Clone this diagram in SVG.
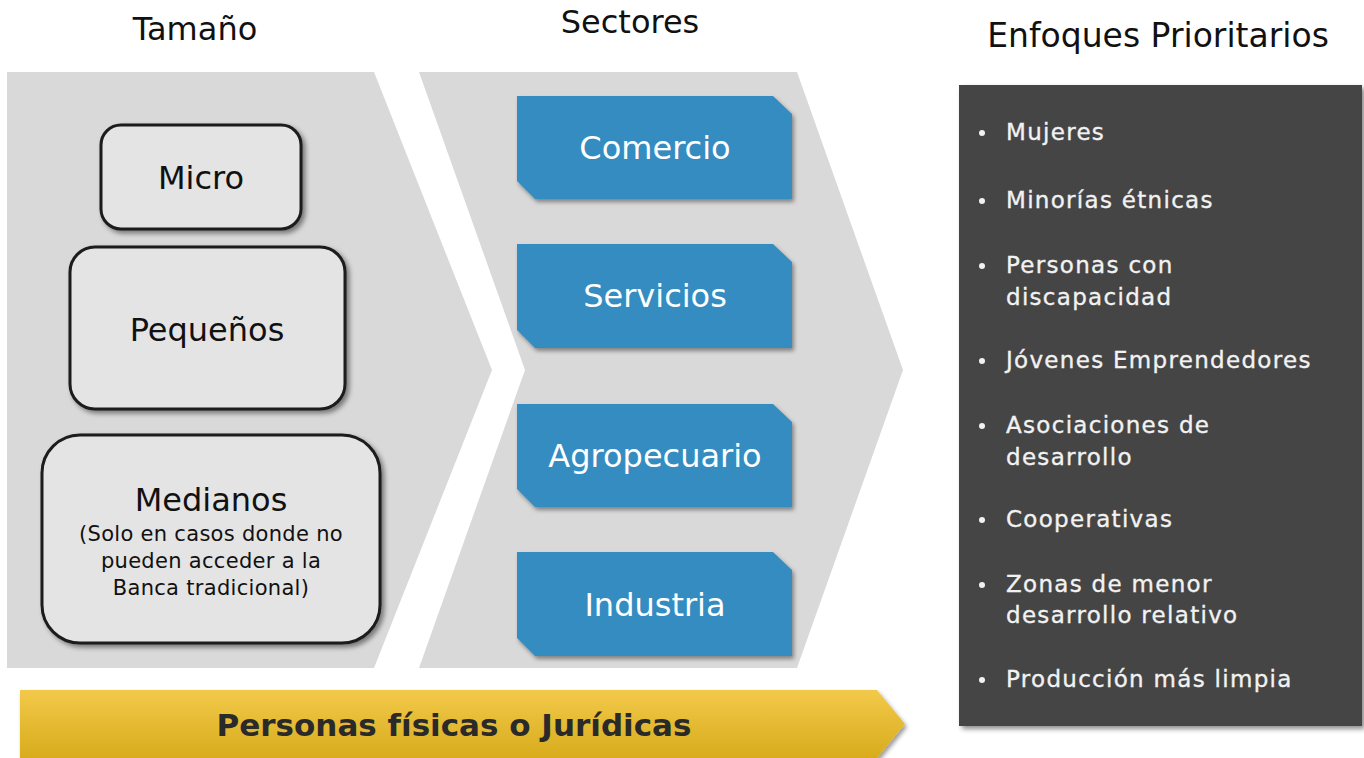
<svg xmlns="http://www.w3.org/2000/svg" width="1364" height="758" viewBox="0 0 1364 758">
<defs>
<filter id="sh" x="-10%" y="-10%" width="130%" height="130%"><feDropShadow dx="3" dy="3" stdDeviation="2.5" flood-color="#000" flood-opacity="0.45"/></filter>
<filter id="shs" x="-10%" y="-10%" width="130%" height="130%"><feDropShadow dx="2" dy="3" stdDeviation="2" flood-color="#000" flood-opacity="0.4"/></filter>
<linearGradient id="yel" x1="0" y1="0" x2="0" y2="1"><stop offset="0" stop-color="#f2c94a"/><stop offset="1" stop-color="#d8ac1c"/></linearGradient>
<style>
.title{font-family:"DejaVu Sans",Verdana,sans-serif;font-size:32px;fill:#111;text-anchor:middle}
.panel{fill:#d9d9d9}
.rbox{fill:#e4e4e4;stroke:#1c1c1c;stroke-width:3;filter:url(#sh)}
.btxt{font-family:"DejaVu Sans",Verdana,sans-serif;font-size:32px;fill:#111;text-anchor:middle}
.stxt{font-family:"DejaVu Sans",Verdana,sans-serif;font-size:21px;fill:#111;text-anchor:middle;letter-spacing:0.3px}
.blue{fill:#368cc1;filter:url(#shs)}
.wtxt{font-family:"DejaVu Sans",Verdana,sans-serif;font-size:32px;fill:#fff;text-anchor:middle}
.dark{fill:#444;filter:url(#sh)}
.li{font-family:"DejaVu Sans",Verdana,sans-serif;font-size:23px;fill:#f2f2f2;stroke:#f2f2f2;stroke-width:0.35;letter-spacing:1.3px}
.dot{fill:#f2f2f2}
.ytxt{font-family:"DejaVu Sans",Verdana,sans-serif;font-size:31px;font-weight:bold;fill:#2a2a2a;text-anchor:middle}
</style>
</defs>
<rect width="1364" height="758" fill="#fff"/>

<g id="titles">
<text class="title" x="195" y="40">Tamaño</text>
<text class="title" x="630" y="33">Sectores</text>
<text class="title" x="1158" y="47" style="font-size:33px">Enfoques Prioritarios</text>
</g>

<g id="panel-tamano">
<path class="panel" d="M7 72 L374 72 L492 370 L374 668 L7 668 Z"/>
</g>
<g id="panel-sectores">
<path class="panel" d="M419 72 L797 72 L903 370 L797 668 L419 668 L525 370 Z"/>
</g>

<g id="connectors"></g>

<g id="micro">
<rect class="rbox" x="101" y="125" width="200" height="104" rx="20"/>
<text class="btxt" x="201" y="189">Micro</text>
</g>
<g id="pequenos">
<rect class="rbox" x="70" y="247" width="275" height="162" rx="25"/>
<text class="btxt" x="207" y="341">Pequeños</text>
</g>
<g id="medianos">
<rect class="rbox" x="42" y="435" width="338" height="208" rx="38"/>
<text class="btxt" x="211" y="511">Medianos</text>
<text class="stxt" x="211" y="541">(Solo en casos donde no</text>
<text class="stxt" x="211" y="568">pueden acceder a la</text>
<text class="stxt" x="211" y="595">Banca tradicional)</text>
</g>

<g id="comercio">
<path class="blue" d="M517 96 L773 96 L792 114 L792 199 L535 199 L517 181 Z"/>
<text class="wtxt" x="655" y="159">Comercio</text>
</g>
<g id="servicios">
<path class="blue" d="M517 244 L773 244 L792 262 L792 348 L535 348 L517 330 Z"/>
<text class="wtxt" x="655" y="307">Servicios</text>
</g>
<g id="agropecuario">
<path class="blue" d="M517 404 L773 404 L792 422 L792 507 L535 507 L517 489 Z"/>
<text class="wtxt" x="655" y="467">Agropecuario</text>
</g>
<g id="industria">
<path class="blue" d="M517 552 L773 552 L792 570 L792 656 L535 656 L517 638 Z"/>
<text class="wtxt" x="655" y="616">Industria</text>
</g>

<g id="personas">
<path d="M20 690 L877 690 L905 724 L877 758 L20 758 Z" fill="url(#yel)" filter="url(#shs)"/>
<text class="ytxt" x="454" y="736">Personas físicas o Jurídicas</text>
</g>

<g id="enfoques">
<rect class="dark" x="959" y="85" width="403" height="641"/>
<circle class="dot" cx="982" cy="133" r="3"/>
<text class="li" x="1006" y="140">Mujeres</text>
<circle class="dot" cx="982" cy="201" r="3"/>
<text class="li" x="1006" y="208">Minorías étnicas</text>
<circle class="dot" cx="982" cy="266" r="3"/>
<text class="li" x="1006" y="273">Personas con</text>
<text class="li" x="1006" y="305">discapacidad</text>
<circle class="dot" cx="982" cy="361" r="3"/>
<text class="li" x="1006" y="368">Jóvenes Emprendedores</text>
<circle class="dot" cx="982" cy="426" r="3"/>
<text class="li" x="1006" y="433">Asociaciones de</text>
<text class="li" x="1006" y="465">desarrollo</text>
<circle class="dot" cx="982" cy="520" r="3"/>
<text class="li" x="1006" y="527">Cooperativas</text>
<circle class="dot" cx="982" cy="585" r="3"/>
<text class="li" x="1006" y="592">Zonas de menor</text>
<text class="li" x="1006" y="623">desarrollo relativo</text>
<circle class="dot" cx="982" cy="680" r="3"/>
<text class="li" x="1006" y="687">Producción más limpia</text>
</g>
</svg>
